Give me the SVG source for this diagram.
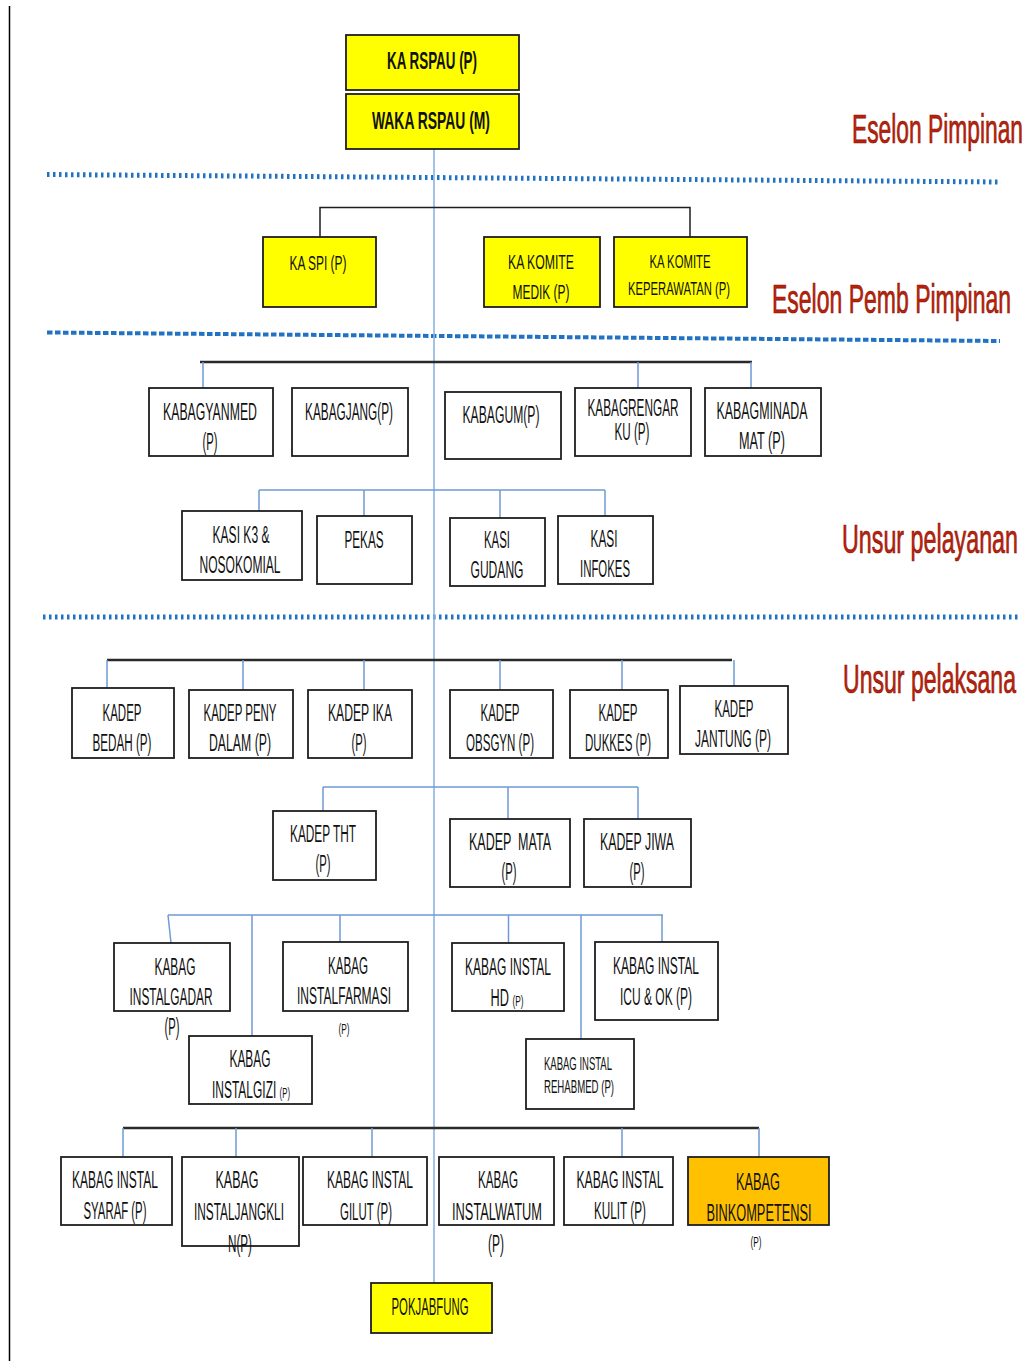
<svg xmlns="http://www.w3.org/2000/svg" width="1033" height="1361" viewBox="0 0 1033 1361">
<style>
.b{fill:#ffffff;stroke:#1e1e1e;stroke-width:1.8}
.y{fill:#ffff00;stroke:#1e1e1e;stroke-width:1.8}
.o{fill:#ffc000;stroke:#1e1e1e;stroke-width:1.8}
text{font-family:"Liberation Sans",Arial,sans-serif;fill:#111;text-anchor:middle;font-size:23px}
.bd{font-weight:bold;font-size:24px}
.m{font-size:21px}
.s{font-size:18px}
.xs{font-size:15px}
.red{fill:#bc220a;stroke:#7d1406;stroke-width:0.7;font-size:41px;text-anchor:start}
.blue{fill:none;stroke:#6f9bd3;stroke-width:1.5}
.blk{fill:none;stroke:#2a2a2a;stroke-width:2.6}
.thin{fill:none;stroke:#1e1e1e;stroke-width:1.5}
.dot{fill:none;stroke:#2272c3;stroke-width:5;stroke-dasharray:2.5 3.5}
.dash{fill:none;stroke:#2272c3;stroke-width:4;stroke-dasharray:5.5 2.5}
</style>

<g id="frame">
<line x1="9.5" y1="6" x2="9.5" y2="1361" stroke="#000" stroke-width="1.5"/>
<path class="dot" d="M47 174.5 L1001 182"/>
<path class="dash" d="M47 332.5 L1000 341"/>
<path class="dot" d="M43 617 L1018 617"/>
</g>

<g id="labels">
<text class="red" x="852" y="143" textLength="171" lengthAdjust="spacingAndGlyphs">Eselon Pimpinan</text>
<text class="red" x="772" y="313" textLength="239" lengthAdjust="spacingAndGlyphs">Eselon Pemb Pimpinan</text>
<text class="red" x="842" y="553" textLength="176" lengthAdjust="spacingAndGlyphs">Unsur pelayanan</text>
<text class="red" x="843" y="693" textLength="173" lengthAdjust="spacingAndGlyphs">Unsur pelaksana</text>
</g>

<g id="connectors">
<path d="M434 149 V1283" fill="none" stroke="#8db3e2" stroke-width="1.6"/>
<path class="thin" d="M320 237 V207.5 H690 V237"/>
<path class="blk" d="M200 362 H752"/>
<path class="blue" d="M203 362 V388 M638 362 V388 M751 362 V388"/>
<path class="blue" d="M259 490 H605 M259 490 V516 M364 490 V516 M500 490 V518 M605 490 V516"/>
<path class="blk" d="M107 660 H732"/>
<path class="blue" d="M107 660 V688 M243 660 V690 M364 660 V690 M500 660 V690 M622 660 V690 M734 660 V686"/>
<path class="blue" d="M323 787 H638 M323 787 V811 M508 787 V819 M638 787 V819"/>
<path class="blue" d="M168 915 H663 M168 915 L171 943 M252 915 V1036 M340 915 V942 M508.5 915 V943 M581 915 V1039 M662 915 V942"/>
<path class="blk" d="M123 1128 H759"/>
<path class="blue" d="M123 1128 V1157 M236 1128 V1157 M372 1128 V1157 M622 1128 V1157 M759 1128 V1157"/>
</g>

<g id="n-karspau"><rect class="y" x="346" y="35" width="173" height="55"/>
<text class="bd" x="432" y="69" textLength="90" lengthAdjust="spacingAndGlyphs">KA RSPAU (P)</text></g>
<g id="n-waka"><rect class="y" x="346" y="94" width="173" height="55"/>
<text class="bd" x="431" y="129" textLength="118" lengthAdjust="spacingAndGlyphs">WAKA RSPAU (M)</text></g>

<g id="n-kaspi"><rect class="y" x="263" y="237" width="113" height="70"/>
<text class="m" x="318" y="270" textLength="57" lengthAdjust="spacingAndGlyphs">KA SPI (P)</text></g>
<g id="n-komitemedik"><rect class="y" x="484" y="237" width="116" height="70"/>
<text class="m" x="541" y="269" textLength="66" lengthAdjust="spacingAndGlyphs">KA KOMITE</text>
<text class="m" x="541" y="299" textLength="57" lengthAdjust="spacingAndGlyphs">MEDIK (P)</text></g>
<g id="n-komitekeperawatan"><rect class="y" x="614" y="237" width="133" height="70"/>
<text class="s" x="680" y="268" textLength="61" lengthAdjust="spacingAndGlyphs">KA KOMITE</text>
<text class="s" x="679" y="295" textLength="102" lengthAdjust="spacingAndGlyphs">KEPERAWATAN (P)</text></g>

<g id="n-kabagyanmed"><rect class="b" x="149" y="388" width="124" height="68"/>
<text x="210" y="420" textLength="94" lengthAdjust="spacingAndGlyphs">KABAGYANMED</text>
<text x="210" y="450" textLength="15" lengthAdjust="spacingAndGlyphs">(P)</text></g>
<g id="n-kabagjang"><rect class="b" x="292" y="388" width="116" height="68"/>
<text x="349" y="420" textLength="88" lengthAdjust="spacingAndGlyphs">KABAGJANG(P)</text></g>
<g id="n-kabagum"><rect class="b" x="445" y="392" width="116" height="67"/>
<text x="501" y="423" textLength="77" lengthAdjust="spacingAndGlyphs">KABAGUM(P)</text></g>
<g id="n-kabagrengarku"><rect class="b" x="575" y="388" width="116" height="68"/>
<text x="633" y="416" textLength="91" lengthAdjust="spacingAndGlyphs">KABAGRENGAR</text>
<text x="632" y="440" textLength="35" lengthAdjust="spacingAndGlyphs">KU (P)</text></g>
<g id="n-kabagminadamat"><rect class="b" x="705" y="388" width="116" height="68"/>
<text x="762" y="419" textLength="91" lengthAdjust="spacingAndGlyphs">KABAGMINADA</text>
<text x="762" y="449" textLength="46" lengthAdjust="spacingAndGlyphs">MAT (P)</text></g>

<g id="n-kasik3"><rect class="b" x="182" y="511" width="120" height="69"/>
<text x="241" y="543" textLength="57" lengthAdjust="spacingAndGlyphs">KASI K3 &amp;</text>
<text x="240" y="573" textLength="81" lengthAdjust="spacingAndGlyphs">NOSOKOMIAL</text></g>
<g id="n-pekas"><rect class="b" x="317" y="516" width="95" height="68"/>
<text x="364" y="548" textLength="39" lengthAdjust="spacingAndGlyphs">PEKAS</text></g>
<g id="n-kasigudang"><rect class="b" x="450" y="518" width="95" height="68"/>
<text x="497" y="548" textLength="26" lengthAdjust="spacingAndGlyphs">KASI</text>
<text x="497" y="578" textLength="53" lengthAdjust="spacingAndGlyphs">GUDANG</text></g>
<g id="n-kasiinfokes"><rect class="b" x="558" y="516" width="95" height="68"/>
<text x="604" y="547" textLength="27" lengthAdjust="spacingAndGlyphs">KASI</text>
<text x="605" y="577" textLength="50" lengthAdjust="spacingAndGlyphs">INFOKES</text></g>

<g id="n-kadepbedah"><rect class="b" x="72" y="688" width="102" height="70"/>
<text x="122" y="721" textLength="39" lengthAdjust="spacingAndGlyphs">KADEP</text>
<text x="122" y="751" textLength="59" lengthAdjust="spacingAndGlyphs">BEDAH (P)</text></g>
<g id="n-kadeppeny"><rect class="b" x="189" y="690" width="104" height="68"/>
<text x="240" y="721" textLength="73" lengthAdjust="spacingAndGlyphs">KADEP PENY</text>
<text x="240" y="751" textLength="62" lengthAdjust="spacingAndGlyphs">DALAM (P)</text></g>
<g id="n-kadepika"><rect class="b" x="308" y="690" width="104" height="68"/>
<text x="360" y="721" textLength="64" lengthAdjust="spacingAndGlyphs">KADEP IKA</text>
<text x="359" y="751" textLength="15" lengthAdjust="spacingAndGlyphs">(P)</text></g>
<g id="n-kadepobsgyn"><rect class="b" x="450" y="690" width="103" height="68"/>
<text x="500" y="721" textLength="39" lengthAdjust="spacingAndGlyphs">KADEP</text>
<text x="500" y="751" textLength="68" lengthAdjust="spacingAndGlyphs">OBSGYN (P)</text></g>
<g id="n-kadepdukkes"><rect class="b" x="570" y="690" width="98" height="68"/>
<text x="618" y="721" textLength="39" lengthAdjust="spacingAndGlyphs">KADEP</text>
<text x="618" y="751" textLength="66" lengthAdjust="spacingAndGlyphs">DUKKES (P)</text></g>
<g id="n-kadepjantung"><rect class="b" x="680" y="686" width="108" height="68"/>
<text x="734" y="717" textLength="39" lengthAdjust="spacingAndGlyphs">KADEP</text>
<text x="733" y="747" textLength="76" lengthAdjust="spacingAndGlyphs">JANTUNG (P)</text></g>

<g id="n-kadeptht"><rect class="b" x="273" y="811" width="103" height="69"/>
<text x="323" y="842" textLength="66" lengthAdjust="spacingAndGlyphs">KADEP THT</text>
<text x="323" y="872" textLength="15" lengthAdjust="spacingAndGlyphs">(P)</text></g>
<g id="n-kadepmata"><rect class="b" x="450" y="819" width="120" height="68"/>
<text x="510" y="850" textLength="82" lengthAdjust="spacingAndGlyphs" xml:space="preserve">KADEP  MATA</text>
<text x="509" y="880" textLength="15" lengthAdjust="spacingAndGlyphs">(P)</text></g>
<g id="n-kadepjiwa"><rect class="b" x="584" y="819" width="107" height="68"/>
<text x="637" y="850" textLength="74" lengthAdjust="spacingAndGlyphs">KADEP JIWA</text>
<text x="637" y="880" textLength="15" lengthAdjust="spacingAndGlyphs">(P)</text></g>

<g id="n-instalgadar"><rect class="b" x="114" y="943" width="116" height="68"/>
<text x="175" y="975" textLength="41" lengthAdjust="spacingAndGlyphs">KABAG</text>
<text x="171" y="1005" textLength="83" lengthAdjust="spacingAndGlyphs">INSTALGADAR</text>
<text x="172" y="1035" textLength="15" lengthAdjust="spacingAndGlyphs">(P)</text></g>
<g id="n-instalfarmasi"><rect class="b" x="283" y="942" width="125" height="69"/>
<text x="348" y="974" textLength="40" lengthAdjust="spacingAndGlyphs">KABAG</text>
<text x="344" y="1004" textLength="94" lengthAdjust="spacingAndGlyphs">INSTALFARMASI</text>
<text class="xs" x="344" y="1034" textLength="11" lengthAdjust="spacingAndGlyphs">(P)</text></g>
<g id="n-instalgizi"><rect class="b" x="189" y="1036" width="123" height="68"/>
<text x="250" y="1067" textLength="41" lengthAdjust="spacingAndGlyphs">KABAG</text>
<text x="251" y="1098" textLength="78" lengthAdjust="spacingAndGlyphs">INSTALGIZI <tspan class="xs">(P)</tspan></text></g>
<g id="n-instalhd"><rect class="b" x="452" y="943" width="112" height="68"/>
<text x="508" y="975" textLength="86" lengthAdjust="spacingAndGlyphs">KABAG INSTAL</text>
<text x="507" y="1006" textLength="33" lengthAdjust="spacingAndGlyphs">HD <tspan class="xs">(P)</tspan></text></g>
<g id="n-instalicu"><rect class="b" x="595" y="942" width="123" height="78"/>
<text x="656" y="974" textLength="86" lengthAdjust="spacingAndGlyphs">KABAG INSTAL</text>
<text x="656" y="1005" textLength="72" lengthAdjust="spacingAndGlyphs">ICU &amp; OK (P)</text></g>
<g id="n-instalrehabmed"><rect class="b" x="526" y="1039" width="108" height="70"/>
<text class="s" x="578" y="1070" textLength="68" lengthAdjust="spacingAndGlyphs">KABAG INSTAL</text>
<text class="s" x="579" y="1093" textLength="70" lengthAdjust="spacingAndGlyphs">REHABMED (P)</text></g>

<g id="n-instalsyaraf"><rect class="b" x="61" y="1157" width="111" height="68"/>
<text x="115" y="1188" textLength="86" lengthAdjust="spacingAndGlyphs">KABAG INSTAL</text>
<text x="115" y="1219" textLength="63" lengthAdjust="spacingAndGlyphs">SYARAF (P)</text></g>
<g id="n-instaljangklin"><rect class="b" x="182" y="1157" width="117" height="89"/>
<text x="237" y="1188" textLength="43" lengthAdjust="spacingAndGlyphs">KABAG</text>
<text x="239" y="1220" textLength="90" lengthAdjust="spacingAndGlyphs">INSTALJANGKLI</text>
<text x="240" y="1252" textLength="24" lengthAdjust="spacingAndGlyphs">N(P)</text></g>
<g id="n-instalgilut"><rect class="b" x="303" y="1157" width="124" height="68"/>
<text x="370" y="1188" textLength="86" lengthAdjust="spacingAndGlyphs">KABAG INSTAL</text>
<text x="366" y="1220" textLength="52" lengthAdjust="spacingAndGlyphs">GILUT (P)</text></g>
<g id="n-instalwatum"><rect class="b" x="439" y="1157" width="115" height="68"/>
<text x="498" y="1188" textLength="40" lengthAdjust="spacingAndGlyphs">KABAG</text>
<text x="497" y="1220" textLength="90" lengthAdjust="spacingAndGlyphs">INSTALWATUM</text>
<text x="496" y="1252" textLength="16" lengthAdjust="spacingAndGlyphs">(P)</text></g>
<g id="n-instalkulit"><rect class="b" x="564" y="1157" width="109" height="68"/>
<text x="620" y="1188" textLength="87" lengthAdjust="spacingAndGlyphs">KABAG INSTAL</text>
<text x="620" y="1219" textLength="52" lengthAdjust="spacingAndGlyphs">KULIT (P)</text></g>
<g id="n-binkompetensi"><rect class="o" x="688" y="1157" width="141" height="68"/>
<text x="758" y="1190" textLength="44" lengthAdjust="spacingAndGlyphs">KABAG</text>
<text x="759" y="1221" textLength="105" lengthAdjust="spacingAndGlyphs">BINKOMPETENSI</text>
<text class="xs" x="756" y="1247" textLength="11" lengthAdjust="spacingAndGlyphs">(P)</text></g>

<g id="n-pokjabfung"><rect class="y" x="371" y="1283" width="121" height="50"/>
<text x="430" y="1315" textLength="77" lengthAdjust="spacingAndGlyphs">POKJABFUNG</text></g>
</svg>
